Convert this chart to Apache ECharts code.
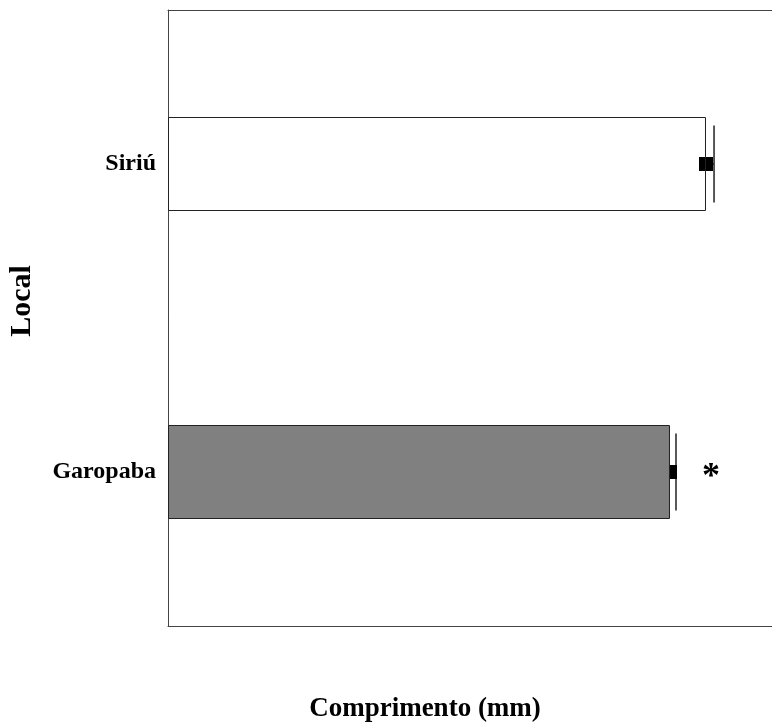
<!DOCTYPE html>
<html>
<head>
<meta charset="utf-8">
<script src="https://cdn.jsdelivr.net/npm/echarts@6/dist/echarts.min.js"></script>
<style>
  html, body { margin: 0; padding: 0; background: #fff; }
  #chart { width: 772px; height: 724px; }
</style>
</head>
<body>
<div id="chart"></div>
<script>
// Mean shell length per site, with the upper error and significance mark
const locais = ['Garopaba', 'Siriú'];
const comprimentoMedio = [41.83, 44.83];
const erroPadrao = [0.5, 0.67];
const significancia = ['*', ''];
const barColors = ['#808080', 'rgba(255,255,255,0)'];

const serif = '"Liberation Serif", "Times New Roman", serif';
const frame = { show: true, onZero: false, lineStyle: { color: '#444', width: 1 } };

const chart = echarts.init(document.getElementById('chart'));

chart.setOption({
  animation: false,
  backgroundColor: '#ffffff',
  grid: { left: 168, right: 0, top: 10, bottom: 98, show: false },
  xAxis: [
    {
      type: 'value', min: 0, max: 50.33, position: 'bottom',
      axisLine: frame, axisTick: { show: false },
      axisLabel: { show: false }, splitLine: { show: false }
    },
    {
      type: 'value', min: 0, max: 50.33, position: 'top',
      axisLine: frame, axisTick: { show: false },
      axisLabel: { show: false }, splitLine: { show: false }
    }
  ],
  yAxis: {
    type: 'category', data: locais,
    axisLine: frame, axisTick: { show: false }, splitLine: { show: false },
    axisLabel: {
      margin: 12, fontFamily: serif, fontWeight: 'bold', fontSize: 24, color: '#000'
    }
  },
  series: [
    {
      // error markers sit beneath the bars
      type: 'custom',
      z: 1,
      data: comprimentoMedio.map((v, i) => [i, v, erroPadrao[i]]),
      renderItem: function (params, api) {
        const cat = api.value(0);
        const mean = api.value(1);
        const err = api.value(2);
        const c = api.coord([mean, cat]);
        const e = api.coord([mean + err, cat]);
        const capH = 77;
        const s = 14;
        const children = [
          { type: 'line', shape: { x1: c[0], y1: c[1], x2: e[0], y2: e[1] },
            style: { stroke: '#222', lineWidth: 1.5 } },
          { type: 'line', shape: { x1: e[0], y1: e[1] - capH / 2, x2: e[0], y2: e[1] + capH / 2 },
            style: { stroke: '#222', lineWidth: 1.5 } },
          { type: 'rect', shape: { x: c[0] - s / 2, y: c[1] - s / 2, width: s, height: s },
            style: { fill: '#000' } }
        ];
        const mark = significancia[params.dataIndex];
        if (mark) {
          children.push({
            type: 'text',
            style: {
              text: mark, x: e[0] + 35, y: e[1] + 6,
              font: 'bold 36px ' + serif, fill: '#000',
              textAlign: 'center', textVerticalAlign: 'middle'
            }
          });
        }
        return { type: 'group', children: children };
      }
    },
    {
      type: 'bar',
      z: 2,
      barWidth: 94,
      data: comprimentoMedio.map((v, i) => ({
        value: v,
        itemStyle: { color: barColors[i], borderColor: '#222', borderWidth: 1 }
      }))
    }
  ],
  graphic: [
    {
      type: 'text',
      x: 22, y: 301, rotation: Math.PI / 2,
      style: {
        text: 'Local', font: 'bold 30px ' + serif, fill: '#000',
        textAlign: 'center', textVerticalAlign: 'middle'
      }
    },
    {
      type: 'text',
      x: 425, y: 709,
      style: {
        text: 'Comprimento (mm)', font: 'bold 27px ' + serif, fill: '#000',
        textAlign: 'center', textVerticalAlign: 'middle'
      }
    }
  ]
});
</script>
</body>
</html>
